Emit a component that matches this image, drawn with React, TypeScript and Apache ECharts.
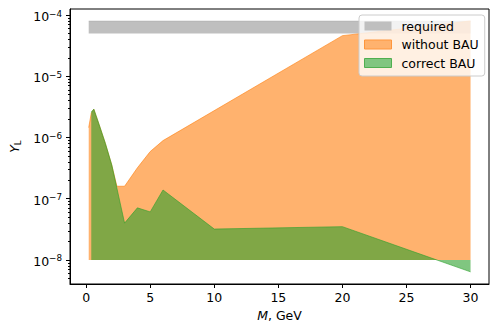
import React, { useEffect, useRef } from "react";
import * as echarts from "echarts";

// ---- data (masses in GeV, Y_L values) ----
const massRequired = [0.2, 30];
const requiredLow = [5.0e-5, 5.0e-5];
const requiredHigh = [8.0e-5, 8.0e-5];

const massWithout = [0.2, 0.4, 0.6, 1.0, 1.5, 2.0, 2.4, 3.0, 4.0, 5.0, 6.0, 20, 30];
const yWithout = [1.45e-6, 2.5e-6, 2.9e-6, 1.65e-6, 8.0e-7, 3.55e-7, 1.6e-7, 1.6e-7, 3.2e-7, 5.9e-7, 8.9e-7, 4.6e-5, 8.0e-5];

const massCorrect = [0.4, 0.6, 1.0, 1.5, 2.0, 3.0, 4.0, 5.0, 6.0, 10, 20, 30];
const yCorrect = [2.6e-6, 2.9e-6, 1.65e-6, 8.0e-7, 3.55e-7, 4.0e-8, 7.1e-8, 6.1e-8, 1.39e-7, 3.2e-8, 3.5e-8, 6.4e-9];

const fillBase = 1e-8;

const xTicks = [0, 5, 10, 15, 20, 25, 30];
const yDecades = [-8, -7, -6, -5, -4];

const FONT = "DejaVu Sans";
const FS = 12.5;

export default function App() {
  const ref = useRef<HTMLDivElement>(null);
  useEffect(() => {
    if (!ref.current) return;
    const chart = echarts.init(ref.current, undefined, { renderer: "svg" });
    const lg = (v: number) => Math.log10(v);
    const pairs = (xs: number[], ys: number[]) => xs.map((x, i) => [x, lg(ys[i])]);

    const minorTicks: number[] = [];
    for (let e = -9; e <= -4; e++) {
      for (let k = 2; k <= 9; k++) {
        const v = Math.log10(k) + e;
        if (v > -8.392 && v < -3.902) minorTicks.push(v);
      }
    }

    const tickRich = {
      b: { fontSize: FS, lineHeight: 15, fontFamily: FONT, color: "#000" },
      s: { fontSize: 8.75, lineHeight: 9, verticalAlign: "top", fontFamily: FONT, color: "#000" },
    };

    chart.setOption({
      animation: false,
      grid: {
        left: 66,
        top: 9,
        width: 423,
        height: 275,
        show: true,
        borderColor: "#000",
        borderWidth: 1,
        backgroundColor: "transparent",
      },
      legend: {
        orient: "vertical",
        left: 359,
        top: 15,
        padding: [4, 6, 6, 5],
        itemWidth: 27,
        itemHeight: 9,
        itemGap: 4.5,
        backgroundColor: "rgba(255,255,255,0.8)",
        borderColor: "#cccccc",
        borderWidth: 1,
        borderRadius: 3,
        textStyle: { fontFamily: FONT, fontSize: FS, color: "#000", lineHeight: 14, padding: [0, 0, 0, 5] },
        data: [
          { name: "required", icon: "rect", itemStyle: { color: "rgb(191,191,191)", borderColor: "rgb(170,170,170)", borderWidth: 0 } },
          { name: "without BAU", icon: "rect", itemStyle: { color: "rgb(255,178,110)", borderColor: "rgb(255,150,60)", borderWidth: 1 } },
          { name: "correct BAU", icon: "rect", itemStyle: { color: "rgb(128,198,128)", borderColor: "rgb(80,175,80)", borderWidth: 1 } },
        ],
      },
      xAxis: {
        type: "value",
        min: -1.26,
        max: 31.44,
        splitLine: { show: false },
        axisLine: { show: true, onZero: false, lineStyle: { color: "#000", width: 1 } },
        axisTick: { show: true, inside: false, length: 4, customValues: xTicks, lineStyle: { color: "#000" } },
        axisLabel: { customValues: xTicks, margin: 7, fontFamily: FONT, fontSize: FS, color: "#000" },
        name: "{i|M}{n|, GeV}",
        nameLocation: "middle",
        nameGap: 23,
        nameTextStyle: {
          rich: {
            i: { fontFamily: FONT, fontSize: FS, fontStyle: "italic", color: "#000" },
            n: { fontFamily: FONT, fontSize: FS, color: "#000" },
          },
        },
      },
      yAxis: [
        {
          type: "value",
          min: -8.392,
          max: -3.902,
          splitLine: { show: false },
          axisLine: { show: true, onZero: false, lineStyle: { color: "#000", width: 1 } },
          axisTick: { show: true, inside: false, length: 4, customValues: yDecades, lineStyle: { color: "#000" } },
          axisLabel: {
            customValues: yDecades,
            margin: 8,
            padding: [3, 0, 0, 0],
            formatter: (v: number) => `{b|10}{s|\u2212${Math.abs(Math.round(v))}}`,
            rich: tickRich,
          },
          name: "{i|Y}{sub|L}",
          nameLocation: "middle",
          nameGap: 48,
          nameRotate: 90,
          nameTextStyle: {
            rich: {
              i: { fontFamily: FONT, fontSize: FS, fontStyle: "italic", color: "#000", lineHeight: 15 },
              sub: { fontFamily: FONT, fontSize: 8.75, color: "#000", verticalAlign: "bottom", lineHeight: 9 },
            },
          },
        },
        {
          type: "value",
          min: -8.392,
          max: -3.902,
          position: "left",
          splitLine: { show: false },
          axisLine: { show: false, onZero: false },
          axisLabel: { show: false },
          axisTick: { show: true, inside: false, length: 2, customValues: minorTicks, lineStyle: { color: "#000" } },
        },
      ],
      series: [
        {
          name: "required",
          type: "line",
          data: pairs(massRequired, requiredHigh),
          symbol: "none",
          color: "rgb(191,191,191)",
          lineStyle: { color: "rgba(128,128,128,0.5)", width: 0.5 },
          areaStyle: { color: "rgba(128,128,128,0.5)", opacity: 1, origin: lg(requiredLow[0]) },
          z: 1,
        },
        {
          name: "without BAU",
          type: "line",
          data: pairs(massWithout, yWithout),
          symbol: "none",
          color: "rgb(255,178,110)",
          lineStyle: { color: "rgba(255,127,14,0.6)", width: 1 },
          areaStyle: { color: "rgba(255,127,14,0.6)", opacity: 1, origin: lg(fillBase) },
          z: 2,
        },
        {
          name: "correct BAU",
          type: "line",
          data: pairs(massCorrect, yCorrect),
          symbol: "none",
          color: "rgb(128,198,128)",
          lineStyle: { color: "rgba(44,160,44,0.6)", width: 1 },
          areaStyle: { color: "rgba(44,160,44,0.6)", opacity: 1, origin: lg(fillBase) },
          z: 3,
        },
      ],
    });
    return () => chart.dispose();
  }, []);
  return <div ref={ref} style={{ position: "absolute", left: 0, top: 0, width: 499, height: 332 }} />;
}
